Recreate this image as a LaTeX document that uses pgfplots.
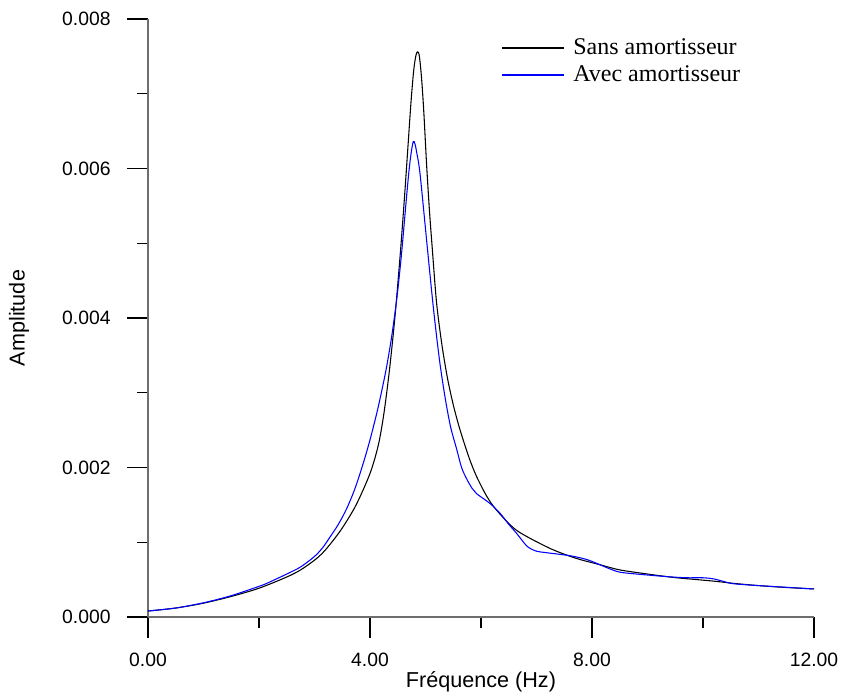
\documentclass[border=0pt]{standalone}
\usepackage{fontspec}
\setmainfont{Liberation Sans}
\newfontfamily\legfont{Liberation Serif}
\usepackage{pgfplots}
\pgfplotsset{compat=1.18}
\definecolor{axgray}{RGB}{110,110,110}
\begin{document}
\begin{tikzpicture}
\begin{axis}[
  scale only axis, width=499.5pt, height=448.5pt,
  xmin=0, xmax=12, ymin=0, ymax=0.008,
  axis x line=bottom, axis y line=left,
  axis line style={-, axgray, line width=1.5pt},
  xtick={0,4,8,12}, minor x tick num=1,
  ytick={0,0.002,0.004,0.006,0.008}, minor y tick num=1,
  tick align=outside,
  major tick length=15.5pt, minor tick length=8pt,
  tick style={black, line width=0.9pt},
  scaled y ticks=false,
  xticklabel style={yshift=-8pt, /pgf/number format/.cd, fixed, fixed zerofill, precision=2},
  yticklabel style={xshift=-9pt, /pgf/number format/.cd, fixed, fixed zerofill, precision=3},
  /pgf/number format/assume math mode=true,
  tick label style={font=\fontsize{14.5}{17}\selectfont},
  xlabel={Fréquence (Hz)}, ylabel={Amplitude},
  every axis x label/.style={at={(axis description cs:0.5,-0.1087)}, anchor=center,
    font=\fontsize{16.2}{19}\selectfont},
  every axis y label/.style={at={(axis description cs:-0.1937,0.5)}, rotate=90, anchor=center,
    font=\fontsize{16.2}{19}\selectfont},
  legend style={draw=none, fill=none, at={(axis description cs:0.53,0.972)}, anchor=north west,
    font=\legfont\fontsize{18}{20}\selectfont, inner sep=0pt, row sep=3pt},
  legend cell align=left,
  legend image code/.code={\draw[#1, line width=1.4pt] (0pt,0pt) -- (46pt,0pt); \path (51pt,0pt);},
]
\coordinate (O) at (axis cs:0,0);
% sans amortisseur
\addplot[black, line width=0.8pt, smooth] coordinates {
(0.00,0.000080) (0.50,0.000120) (1.00,0.000185) (1.50,0.000275) (2.00,0.000385)
(2.50,0.000535) (2.75,0.000630) (3.00,0.000760) (3.15,0.000860) (3.30,0.000990)
(3.50,0.001190) (3.75,0.001500) (4.00,0.001920) (4.15,0.002300) (4.25,0.002720)
(4.35,0.003300) (4.45,0.004020) (4.55,0.004900) (4.62,0.005600) (4.68,0.006250)
(4.74,0.006900) (4.79,0.007330) (4.83,0.007520) (4.86,0.007560) (4.89,0.007500)
(4.93,0.007200) (4.97,0.006750) (5.02,0.006050) (5.07,0.005450) (5.12,0.004950)
(5.20,0.004200) (5.30,0.003620) (5.40,0.003180) (5.50,0.002840) (5.60,0.002560)
(5.70,0.002320) (5.80,0.002100) (5.92,0.001880) (6.10,0.001620) (6.28,0.001430)
(6.64,0.001160) (7.18,0.000940) (7.50,0.000840) (7.78,0.000770) (8.14,0.000700)
(8.50,0.000630) (9.00,0.000575) (9.35,0.000540) (9.59,0.000520) (10.19,0.000480)
(10.55,0.000450) (11.00,0.000420) (11.50,0.000395) (12.00,0.000375)
};
\addlegendentry{Sans amortisseur}
% avec amortisseur
\addplot[blue, line width=0.8pt, smooth] coordinates {
(0.00,0.000080) (0.50,0.000120) (1.00,0.000190) (1.50,0.000285) (2.00,0.000410)
(2.14,0.000450) (2.50,0.000575) (2.75,0.000670) (3.00,0.000810) (3.15,0.000930)
(3.28,0.001070) (3.43,0.001240) (3.58,0.001450) (3.73,0.001720) (3.88,0.002060)
(4.00,0.002370) (4.12,0.002720) (4.21,0.003020) (4.30,0.003350) (4.39,0.003750)
(4.48,0.004240) (4.55,0.004720) (4.60,0.005120) (4.65,0.005550) (4.70,0.005950)
(4.74,0.006200) (4.78,0.006360) (4.81,0.006330) (4.84,0.006220) (4.90,0.005940)
(5.02,0.005040) (5.14,0.004150) (5.25,0.003450) (5.35,0.002950) (5.45,0.002550)
(5.56,0.002250) (5.65,0.002000) (5.74,0.001850) (5.84,0.001720) (5.92,0.001650)
(6.16,0.001520) (6.34,0.001390) (6.50,0.001240) (6.64,0.001120) (6.80,0.000970)
(6.88,0.000920) (7.00,0.000880) (7.18,0.000860) (7.60,0.000820) (7.90,0.000770)
(8.14,0.000700) (8.30,0.000650) (8.50,0.000600) (8.80,0.000575) (9.35,0.000540)
(9.70,0.000525) (10.00,0.000525) (10.19,0.000510) (10.40,0.000470) (10.55,0.000445)
(11.00,0.000420) (12.00,0.000375)
};
\addlegendentry{Avec amortisseur}
\end{axis}
\pgfresetboundingbox
\path (O) ++(-111pt,-58.5pt) rectangle ++(632.25pt,521.25pt);
\end{tikzpicture}
\end{document}
